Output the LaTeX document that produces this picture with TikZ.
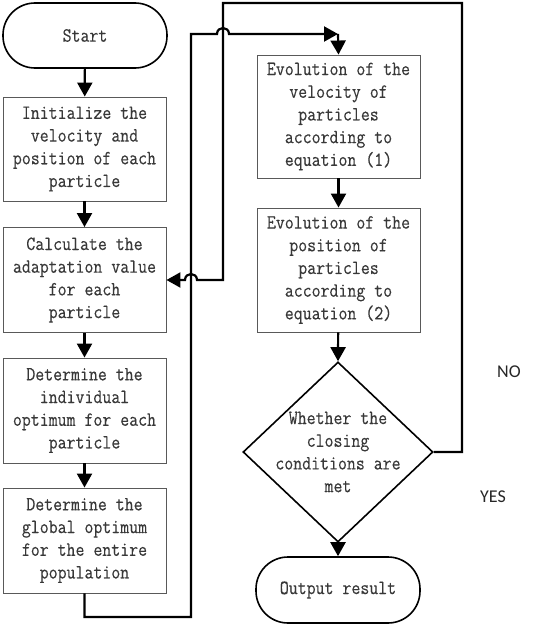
\documentclass[tikz,border=0pt]{standalone}
\usepackage{fontspec}
\newfontfamily\labfont{Carlito}
\newfontfamily\boxfont[FakeStretch=0.86,FakeBold=0.3]{Latin Modern Mono}
\usetikzlibrary{shapes.geometric,arrows.meta}
\begin{document}
\begin{tikzpicture}[x=1pt,y=-1pt,
  txt/.style={align=center, font=\boxfont\fontsize{20.2}{22.7}\selectfont, text=black!78},
  box/.style={txt, draw=black!65, line width=0.9pt, minimum width=163pt, inner sep=0pt},
  term/.style={txt, draw=black, line width=1.6pt, rounded corners=32pt, minimum width=164pt, minimum height=65pt, inner sep=0pt},
  dec/.style={txt, diamond, draw=black, line width=1.6pt, aspect=1.05, inner sep=-9pt, minimum width=190pt, minimum height=180pt},
  conn/.style={draw=black, line width=2.2pt},
  arr/.style={conn, -{Triangle[length=14pt,width=15pt]}},
  yn/.style={font=\labfont\fontsize{18}{20}\selectfont, text=black!85}
]
\useasboundingbox (0,0) rectangle (549,626);
% left column
\node[term] (start) at (85,35.5) {Start};
\node[box, minimum height=104pt] (init) at (84.5,149) {Initialize the\\velocity and\\position of each\\particle};
\node[box, minimum height=105pt] (calc) at (84.5,280) {Calculate the\\adaptation value\\for each\\particle};
\node[box, minimum height=105pt] (indiv) at (84.5,410.5) {Determine the\\individual\\optimum for each\\particle};
\node[box, minimum height=105pt] (glob) at (84.5,540.5) {Determine the\\global optimum\\for the entire\\population};
% right column
\node[box, minimum height=123pt] (ev1) at (338.5,116.5) {Evolution of the\\velocity of\\particles\\according to\\equation (1)};
\node[box, minimum height=124pt] (ev2) at (338.5,270) {Evolution of the\\position of\\particles\\according to\\equation (2)};
\node[dec] (dia) at (338,452) {Whether the\\closing\\conditions are\\met};
\node[term, minimum height=66pt] (out) at (338,590) {Output result};
% labels
\node[yn] (no) at (509,372) {NO};
\node[yn] (yes) at (493,497) {YES};
% straight arrows
\draw[arr] (start) -- (init);
\draw[arr] (init) -- (calc);
\draw[arr] (calc) -- (indiv);
\draw[arr] (indiv) -- (glob);
\draw[arr] (ev1) -- (ev2);
\draw[arr] (ev2) -- (dia.north);
\draw[arr] (dia.south) -- (out);
% loop from global optimum to evolution
\coordinate (j) at (338,34);
\draw[arr] (glob.south) -- (84.5,617) -- (191,617) -- (191,34) -- (217,34)
  .. controls (217,26) and (229,26) .. (229,34) -- (j);
\draw[arr] (j) -- (ev1.north);
% NO loop back to calculate
\draw[arr] (dia.east) -- (462,452) -- (462,3) -- (223,3) -- (223,280) -- (197,280)
  .. controls (197,272) and (185,272) .. (185,280) -- (calc.east);
\end{tikzpicture}
\end{document}
